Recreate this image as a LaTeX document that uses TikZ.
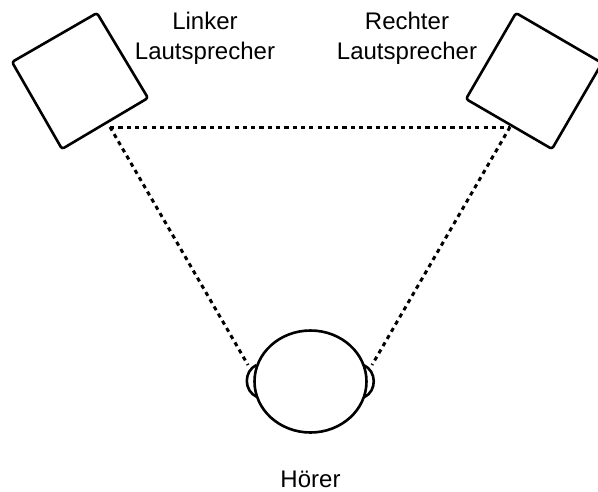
\documentclass[tikz,border=0pt]{standalone}
\usepackage{fontspec}
\setmainfont{Liberation Sans}
\usetikzlibrary{shapes.geometric}
\begin{document}
\begin{tikzpicture}[x=1pt,y=-1pt,
  outline/.style={draw=black,line width=2.6pt,line join=round,rounded corners=2.5pt},
  curve/.style={draw=black,line width=2.6pt},
  sight/.style={draw=black,line width=3pt,dash pattern=on 4.2pt off 4.1pt},
  label/.style={font=\fontsize{24}{30}\selectfont,align=center,inner sep=0pt,anchor=center}]
\useasboundingbox (0,0) rectangle (598,491);
\clip (0,0) rectangle (598,491);
\coordinate (leftapex) at (110,127);
\coordinate (rightapex) at (510,127);
\coordinate (leftend) at (248,365);
\coordinate (rightend) at (372,365);
\draw[sight] (leftapex) -- (rightapex);
\draw[sight] (leftapex) -- (leftend);
\draw[sight] (rightapex) -- (rightend);
\draw[outline] (97,13) -- (148,98) -- (62,149) -- (12,62) -- cycle;
\draw[outline] (516,13) -- (466,99) -- (552,149) -- (602,63) -- cycle;
\node[draw=black,line width=2.6pt,ellipse,minimum width=112pt,minimum height=102pt,inner sep=0pt,fill=white] (head) at (310.5,381.5) {};
\draw[curve] (256.5,365) .. controls (243.5,371) and (243.5,391) .. (257,397);
\draw[curve] (363.5,365) .. controls (377,371) and (377,391) .. (364.5,397);
\node[label] (linker) at (205,38) {Linker\\Lautsprecher};
\node[label] (rechter) at (407,38) {Rechter\\Lautsprecher};
\node[label] (hoerer) at (310.5,479) {Hörer};
\end{tikzpicture}
\end{document}
